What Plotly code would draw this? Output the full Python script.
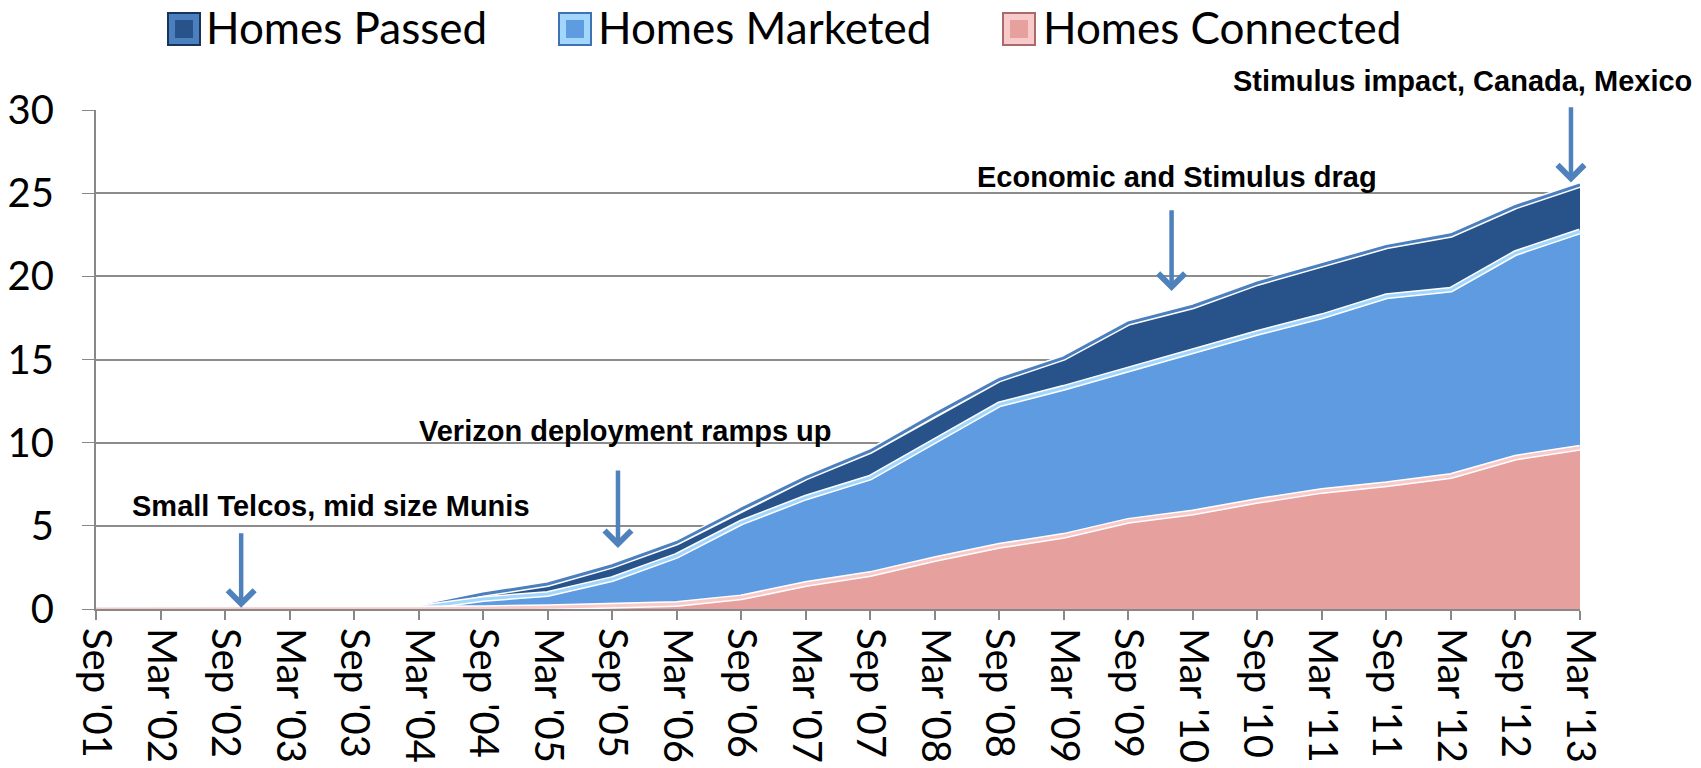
import plotly.graph_objects as go

periods = [
    "Sep '01", "Mar '02", "Sep '02", "Mar '03", "Sep '03", "Mar '04",
    "Sep '04", "Mar '05", "Sep '05", "Mar '06", "Sep '06", "Mar '07",
    "Sep '07", "Mar '08", "Sep '08", "Mar '09", "Sep '09", "Mar '10",
    "Sep '10", "Mar '11", "Sep '11", "Mar '12", "Sep '12", "Mar '13",
]

homes_passed = [
    0.0, 0.0, 0.02, 0.05, 0.07, 0.1, 0.9, 1.5, 2.6, 4.0, 6.0, 7.9,
    9.5, 11.7, 13.8, 15.1, 17.2, 18.2, 19.6, 20.7, 21.8, 22.5, 24.2, 25.5,
]
homes_marketed = [
    0.0, 0.0, 0.01, 0.03, 0.05, 0.08, 0.6, 0.9, 1.8, 3.2, 5.2, 6.7,
    7.9, 10.1, 12.3, 13.3, 14.4, 15.5, 16.6, 17.6, 18.8, 19.2, 21.4, 22.7,
]
homes_connected = [
    0.0, 0.0, 0.0, 0.0, 0.01, 0.02, 0.05, 0.1, 0.2, 0.3, 0.7, 1.5,
    2.1, 3.0, 3.8, 4.4, 5.3, 5.8, 6.5, 7.1, 7.5, 8.0, 9.1, 9.7,
]

idx = list(range(len(periods)))

series = [
    ("Homes Passed", homes_passed, "#27538A", "#4C7FBD", "#17355C"),
    ("Homes Marketed", homes_marketed, "#5E9BE0", "#A3D6FB", "#3E72B5"),
    ("Homes Connected", homes_connected, "#E6A19F", "#F8CACA", "#A86A6A"),
]

W, H = 1701, 768
M_L, M_R, M_T, M_B = 96, 121, 110, 159


def px_x(px):
    return (px - M_L) / (W - M_L - M_R)


def px_y(py):
    return (H - M_B - py) / (H - M_T - M_B)


fig = go.Figure()

for name, values, fill_col, band_col, _ in series:
    fig.add_trace(
        go.Scatter(
            x=idx,
            y=values,
            name=name,
            mode="lines",
            fill="tozeroy",
            fillcolor=fill_col,
            line=dict(width=0, color=fill_col),
            showlegend=False,
            hoverinfo="skip",
        )
    )
    fig.add_trace(
        go.Scatter(
            x=idx,
            y=values,
            mode="lines",
            line=dict(width=6, color="white"),
            showlegend=False,
            hoverinfo="skip",
        )
    )
    fig.add_trace(
        go.Scatter(
            x=idx,
            y=values,
            mode="lines",
            line=dict(width=3, color=band_col),
            showlegend=False,
            hoverinfo="skip",
        )
    )

# legend drawn by hand so the swatches can be big squares like the original
legend_pos = [(168, 204), (559, 596), (1003, 1041)]
for (name, _, fill_col, band_col, dark_col), (sx, tx) in zip(series, legend_pos):
    fig.add_shape(
        type="rect", xref="paper", yref="paper",
        x0=px_x(sx), x1=px_x(sx + 32), y0=px_y(45), y1=px_y(13),
        fillcolor=band_col, line=dict(color=dark_col, width=2),
    )
    fig.add_shape(
        type="rect", xref="paper", yref="paper",
        x0=px_x(sx + 7), x1=px_x(sx + 25), y0=px_y(38), y1=px_y(20),
        fillcolor=fill_col, line=dict(width=0),
    )
    fig.add_annotation(
        x=px_x(tx), y=px_y(27), xref="paper", yref="paper",
        text=name, showarrow=False, xanchor="left", yanchor="middle",
        font=dict(family="Lato, Calibri, sans-serif", size=44, color="black"),
    )

note_font = dict(
    family="Liberation Sans Narrow, Arial Narrow, Liberation Sans, Arial",
    size=29,
    color="black",
)
arrow_col = "#4F81BD"

notes = [
    ("<b>Small Telcos, mid size Munis</b>", 331, 506),
    ("<b>Verizon deployment ramps up</b>", 625, 431),
    ("<b>Economic and Stimulus drag</b>", 1177, 177),
    ("<b>Stimulus impact, Canada, Mexico</b>", 1462, 81),
]
for text, x, y in notes:
    fig.add_annotation(
        x=px_x(x), y=px_y(y), xref="paper", yref="paper", text=text,
        showarrow=False, font=note_font, xanchor="center", yanchor="middle",
    )

arrows = [
    (2.25, 0.07, 4.64),
    (8.09, 3.66, 8.42),
    (16.67, 19.12, 24.07),
    (22.86, 25.64, 30.25),
]
for x, y_head, y_tail in arrows:
    fig.add_annotation(
        x=x, y=y_head, ax=x, ay=y_tail,
        xref="x", yref="y", axref="x", ayref="y",
        text="", showarrow=True,
        arrowhead=4, arrowsize=1.15, arrowwidth=4.5, arrowcolor=arrow_col,
    )

tick_font = dict(family="Lato, Calibri, Carlito, sans-serif", size=40, color="black")

fig.update_layout(
    width=W,
    height=H,
    margin=dict(l=M_L, r=M_R, t=M_T, b=M_B, autoexpand=False),
    paper_bgcolor="white",
    plot_bgcolor="white",
    font=tick_font,
    showlegend=False,
    xaxis=dict(
        range=[0, 23],
        tickvals=idx,
        ticktext=periods,
        tickangle=90,
        showgrid=False,
        zeroline=False,
        showline=True,
        linecolor="#888888",
        linewidth=2,
        ticks="outside",
        ticklen=9,
        tickcolor="#888888",
        tickwidth=1.5,
        tickfont=tick_font,
        automargin=False,
    ),
    yaxis=dict(
        range=[0, 30],
        tickvals=[0, 5, 10, 15, 20, 25, 30],
        showgrid=True,
        gridcolor="#8C8C8C",
        gridwidth=2,
        zeroline=False,
        showline=True,
        linecolor="#888888",
        linewidth=2,
        ticks="outside",
        ticklen=12,
        tickcolor="#888888",
        tickfont=tick_font,
        ticklabelstandoff=20,
        automargin=False,
    ),
)

fig.write_html(
    "out.html",
    config={"displayModeBar": False},
    post_script="document.body.style.margin='0';document.body.style.overflow='hidden';",
)
